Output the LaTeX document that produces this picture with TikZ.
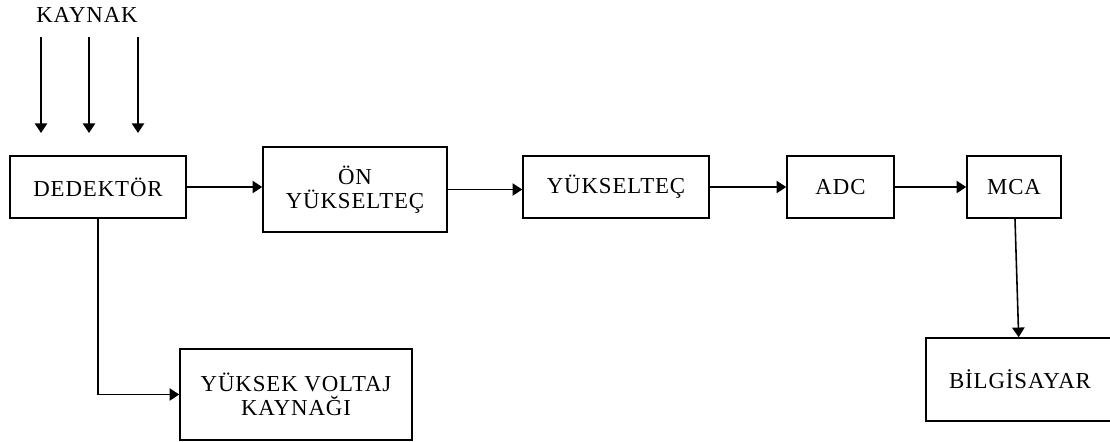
\documentclass[tikz,border=0pt]{standalone}
\usepackage{fontspec}
\setmainfont[LetterSpace=4]{Liberation Serif}
\usetikzlibrary{arrows.meta}
\tikzset{
  blok/.style={draw,line width=.9pt,align=center,inner sep=0pt,font=\fontsize{13}{14}\selectfont},
  ok/.style={line width=.9pt,-{Triangle[length=5.5pt,width=7pt]}}
}
\begin{document}
\begin{tikzpicture}[x=0.02cm,y=-0.02cm]
\useasboundingbox (0,0) rectangle (1110,441);
\node[font=\fontsize{13}{14}\selectfont] (kaynak) at (87,15){KAYNAK};
\node[blok,minimum width=176*0.02cm,minimum height=62*0.02cm] (ded) at (98,187){DEDEKT\"OR};
\node[blok,minimum width=184*0.02cm,minimum height=85*0.02cm] (on) at (355,189.5){\"ON\\Y\"UKSELTE\c{C}};
\node[blok,minimum width=186*0.02cm,minimum height=62*0.02cm] (yuk) at (616,187){Y\"UKSELTE\c{C}};
\node[blok,minimum width=107*0.02cm,minimum height=62*0.02cm] (adc) at (840.5,187){ADC};
\node[blok,minimum width=94*0.02cm,minimum height=62*0.02cm] (mca) at (1014,187){MCA};
\node[blok,minimum width=188*0.02cm,minimum height=83*0.02cm] (pc) at (1020,379.5){BİLGİSAYAR};
\node[blok,minimum width=232*0.02cm,minimum height=91*0.02cm] (hv) at (296,394.5){YÜKSEK VOLTAJ\\KAYNAĞI};
\coordinate (k1) at (41,37);\coordinate (k2) at (89,37);\coordinate (k3) at (138,37);
\coordinate (d1) at (41,133);\coordinate (d2) at (89,133);\coordinate (d3) at (138,133);
\draw[ok] (k1) -- (d1);
\draw[ok] (k2) -- (d2);
\draw[ok] (k3) -- (d3);
\draw[ok] (ded.east) -- (ded.east -| on.west);
\draw[ok] (on.east) -- (on.east -| yuk.west);
\draw[ok] (yuk.east) -- (yuk.east -| adc.west);
\draw[ok] (adc.east) -- (adc.east -| mca.west);
\draw[ok] (mca) -- (pc);
\draw[ok] (ded.south) |- (hv.west);
\end{tikzpicture}
\end{document}
